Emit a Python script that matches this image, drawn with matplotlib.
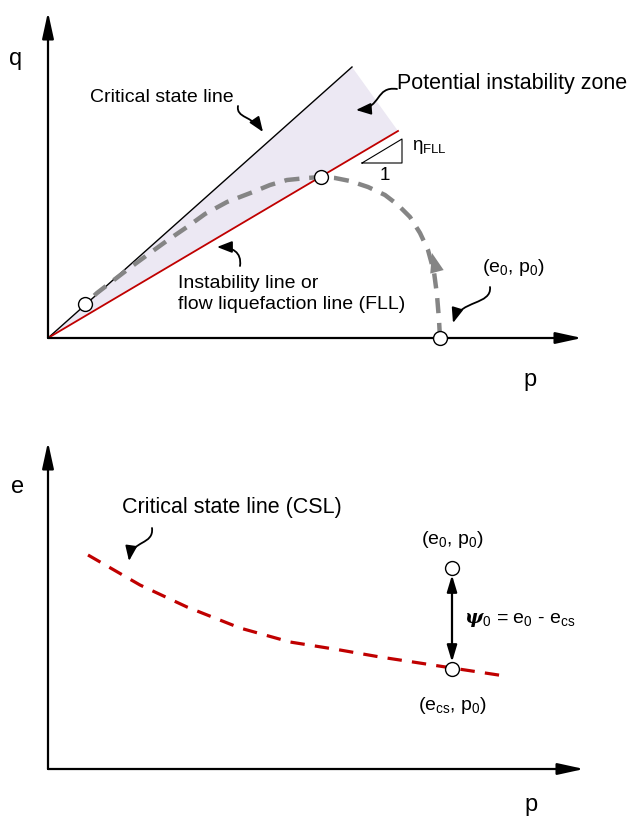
import matplotlib
matplotlib.use("Agg")
import matplotlib.pyplot as plt
from matplotlib.patches import FancyArrowPatch, Polygon
from matplotlib.path import Path

plt.rcParams["font.family"] = ["Liberation Sans", "DejaVu Sans"]
plt.rcParams["mathtext.fontset"] = "custom"
plt.rcParams["mathtext.rm"] = "Liberation Sans"
plt.rcParams["mathtext.it"] = "Liberation Sans:italic"
plt.rcParams["mathtext.bfit"] = "DejaVu Serif:italic:bold"

# --- Diagram data (schematic units, origin at the axes corner) ---
# q-p plane
csl_p = [0, 304]
csl_q = [0, 271]
fll_p = [0, 350]
fll_q = [0, 207]
path_p = [392, 391, 389, 386, 380, 372, 362, 350, 337, 320, 302, 287, 273,
          259, 239, 222, 205, 179, 157, 139, 120, 102, 87, 75, 62, 49, 37]
path_q = [0, 18, 43, 66, 88, 105, 121, 133, 143, 151, 157, 160, 161,
          160, 158, 153, 146, 136, 124, 111, 98, 85, 74, 65, 55, 45, 34]
state_p = [37, 273, 392]
state_q = [34, 161, 0]

# e-p plane
cslb_p = [40, 92, 139, 192, 242, 292, 332, 365, 404, 457]
cslb_e = [214, 184, 162, 141, 127, 119, 112, 107, 101, 93]
p0 = 404
e0 = 201
ecs = 100

GREY = "#858585"
RED = "#C00000"
ZONE = "#ECE8F3"


def axis_arrows(ax, xmax, ymax):
    style = "-|>,head_length=1.6,head_width=0.35"
    for tip in [(xmax, 0), (0, ymax)]:
        ax.annotate("", xy=tip, xytext=(0, 0), annotation_clip=False,
                    arrowprops=dict(arrowstyle=style, lw=1.6, color="black",
                                    shrinkA=0, shrinkB=0, mutation_scale=10))


def curly(ax, pts):
    # S-shaped pointer drawn as one cubic Bezier
    codes = [Path.MOVETO, Path.CURVE4, Path.CURVE4, Path.CURVE4]
    arr = FancyArrowPatch(path=Path(pts, codes),
                          arrowstyle="-|>,head_length=0.9,head_width=0.35",
                          mutation_scale=10, lw=1.3, color="black")
    ax.add_patch(arr)


fig = plt.figure(figsize=(6.32, 8.16), dpi=100)
W, H = 632, 816

# ---------------- q-p plane ----------------
ax1 = fig.add_axes([48 / W, (H - 338) / H, 534 / W, 326 / H])
ax1.set_xlim(0, 534)
ax1.set_ylim(0, 326)
ax1.axis("off")

zone = Polygon([(0, 0), (csl_p[1], csl_q[1]), (fll_p[1], fll_q[1])],
               closed=True, facecolor=ZONE, edgecolor="none", zorder=1)
ax1.add_patch(zone)
ax1.plot(csl_p, csl_q, color="black", lw=1.0, zorder=2)
ax1.plot(fll_p, fll_q, color=RED, lw=1.3, zorder=2)
ax1.plot(path_p, path_q, color=GREY, lw=3.2, dashes=(3.4, 2.2), zorder=3)
ax1.annotate("", xy=(384, 85), xytext=(389, 66),
             arrowprops=dict(arrowstyle="-|>,head_length=1.4,head_width=0.5",
                             color=GREY, lw=0, shrinkA=0, shrinkB=0,
                             mutation_scale=10), zorder=4)
ax1.plot(state_p, state_q, "o", ms=10, mfc="white", mec="black", mew=1.0,
         zorder=5, clip_on=False)
axis_arrows(ax1, 534, 326)

# slope triangle
ax1.plot([314, 354, 354, 314], [175, 175, 199, 175], color="black", lw=0.8)
ax1.text(364, 191, r"$\mathrm{\eta}$$_{\mathrm{FLL}}$", fontsize=13.5,
         ha="left", va="center")
ax1.text(337, 163, "1", fontsize=13.5, ha="center", va="center")

ax1.text(-32, 279, "q", fontsize=17, ha="center", va="center")
ax1.text(482, -42, "p", fontsize=17, ha="center", va="center", clip_on=False)
ax1.text(42, 241, "Critical state line", fontsize=14, ha="left",
         va="center")
ax1.text(349, 254, "Potential instability zone", fontsize=15.5, ha="left",
         va="center", clip_on=False)
ax1.text(130, 44, "Instability line or\nflow liquefaction line (FLL)",
         fontsize=14, ha="left", va="center", linespacing=1.25)
ax1.text(434, 71, "(e$_0$, p$_0$)", fontsize=14, ha="left", va="center")

curly(ax1, [(190, 232), (188, 220), (204, 222), (215, 206)])
curly(ax1, [(349, 249), (327, 252), (334, 230), (308, 228)])
curly(ax1, [(192, 72), (194, 86), (184, 91), (169, 91)])
curly(ax1, [(442, 51), (444, 33), (412, 38), (405, 15)])

# ---------------- e-p plane ----------------
ax2 = fig.add_axes([48 / W, (H - 769) / H, 534 / W, 327 / H])
ax2.set_xlim(0, 534)
ax2.set_ylim(0, 327)
ax2.axis("off")

ax2.plot(cslb_p, cslb_e, color=RED, lw=2.3, dashes=(4.5, 3.2), zorder=2)
ax2.annotate("", xy=(p0, e0 - 7), xytext=(p0, ecs + 7),
             arrowprops=dict(arrowstyle="<|-|>,head_length=1.0,head_width=0.3",
                             color="black", lw=1.6, shrinkA=0, shrinkB=0,
                             mutation_scale=10), zorder=3)
ax2.plot([p0, p0], [e0, ecs], "o", ms=10, mfc="white", mec="black",
         mew=1.0, zorder=5)
axis_arrows(ax2, 536, 327)

ax2.text(-30, 282, "e", fontsize=17, ha="center", va="center")
ax2.text(483, -36, "p", fontsize=17, ha="center", va="center", clip_on=False)
ax2.text(74, 261, "Critical state line (CSL)", fontsize=15.5, ha="left",
         va="center")
ax2.text(p0, 229, "(e$_0$, p$_0$)", fontsize=14, ha="center", va="center")
ax2.text(p0, 64, "(e$_{\\mathrm{cs}}$, p$_0$)", fontsize=14, ha="center",
         va="center")
ax2.text(416, 149, r"$\mathbfit{\psi}$$_0$ = e$_0$ - e$_{\mathrm{cs}}$",
         fontsize=14, ha="left", va="center")

curly(ax2, [(104, 241), (106, 224), (84, 229), (81, 208)])

fig.savefig("out.png", dpi=100)
